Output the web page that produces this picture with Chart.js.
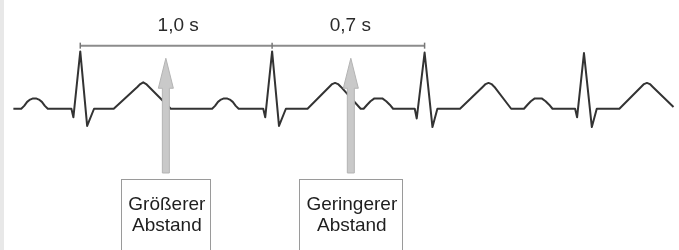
<!DOCTYPE html>
<html>
<head>
<meta charset="utf-8">
<script src="https://cdn.jsdelivr.net/npm/chart.js@4/dist/chart.umd.min.js"></script>
<style>
	html, body {margin:0; padding:0; background:#fff;}
	#box {width:679px; height:250px; position:relative;}
</style>
</head>
<body>
<div id="box"><canvas id="ecg"></canvas></div>
<script>
// ECG trace, time in ms, amplitude in mV
var ecgTime = [40, 80, 95, 110, 125, 140, 155, 170, 185, 200, 215,
	335, 345, 380, 415, 450, 550, 670, 685, 700, 715, 730, 840,
	1050, 1065, 1080, 1095, 1110, 1125, 1140, 1155, 1170, 1185,
	1310, 1320, 1355, 1390, 1425, 1535, 1645, 1660, 1675, 1690, 1705, 1805,
	1820, 1838, 1855, 1875, 1895, 1915, 1935, 1953, 1970,
	2080, 2090, 2130, 2170, 2195, 2310, 2425, 2440, 2455, 2470, 2485, 2570,
	2635, 2653, 2670, 2690, 2705, 2725, 2745, 2763, 2780,
	2895, 2905, 2940, 2980, 3005, 3120, 3230, 3245, 3260, 3275, 3290, 3395]
var ecgVolt = [0, 0, 0.05, 0.12, 0.16, 0.18, 0.18, 0.16, 0.12, 0.05, 0,
	0, -0.15, 1.0, -0.3, 0, 0, 0.38, 0.43, 0.46, 0.43, 0.38, 0,
	0, 0.05, 0.12, 0.16, 0.18, 0.18, 0.16, 0.12, 0.05, 0,
	0, -0.15, 1.0, -0.3, 0, 0, 0.38, 0.43, 0.45, 0.43, 0.38, 0,
	0, 0.07, 0.13, 0.18, 0.18, 0.18, 0.13, 0.07, 0,
	0, -0.17, 0.98, -0.32, 0, 0, 0.38, 0.43, 0.45, 0.43, 0.38, 0,
	0, 0.07, 0.13, 0.18, 0.18, 0.18, 0.13, 0.07, 0,
	0, -0.15, 0.97, -0.32, 0, 0, 0.38, 0.43, 0.45, 0.43, 0.38, 0.03]

// R-R intervals marked above the trace
var rPeaks = [380, 1355, 2130]
var rrLabels = ['1,0 s', '0,7 s']
var bracketLevel = 1.1

// arrows + notes below
var arrowTimes = [815, 1755]
var arrowTop = 0.88
var arrowBottom = -1.12
var noteTop = -1.23
var notes = [['Größerer', 'Abstand'], ['Geringerer', 'Abstand']]

var FONT = "19px 'Liberation Sans', Arial, sans-serif"

var extras = {
	id: 'extras',
	beforeDraw: function(chart) {
		var c = chart.ctx
		c.save()
		c.fillStyle = '#fff'
		c.fillRect(0, 0, chart.width, chart.height)
		c.fillStyle = '#e8e8e8'
		c.fillRect(0, 0, 4, chart.height)
		c.restore()
	},
	afterDatasetsDraw: function(chart) {
		var c = chart.ctx, xs = chart.scales.x, ys = chart.scales.y
		c.save()
		c.font = FONT
		c.fillStyle = '#2a2a2a'
		c.textAlign = 'center'
		c.textBaseline = 'alphabetic'
		for (var i = 0; i < rrLabels.length; i++) {
			var mid = (xs.getPixelForValue(rPeaks[i]) + xs.getPixelForValue(rPeaks[i + 1])) / 2
			c.fillText(rrLabels[i], mid + 2, ys.getPixelForValue(bracketLevel) - 15)
		}

		arrowTimes.forEach(function(t, i) {
			var x = xs.getPixelForValue(t)
			var top = ys.getPixelForValue(arrowTop)
			var bot = ys.getPixelForValue(arrowBottom)
			c.beginPath()
			c.moveTo(x, top)
			c.lineTo(x + 7.5, top + 30)
			c.lineTo(x + 3.5, top + 30)
			c.lineTo(x + 3.5, bot)
			c.lineTo(x - 3.5, bot)
			c.lineTo(x - 3.5, top + 30)
			c.lineTo(x - 7.5, top + 30)
			c.closePath()
			c.fillStyle = '#c9c9c9'
			c.fill()
			c.strokeStyle = '#b4b4b4'
			c.lineWidth = 1
			c.stroke()

			// note box
			var lines = notes[i]
			c.font = FONT
			var w = Math.max.apply(null, lines.map(function(s) { return c.measureText(s).width })) + 12
			var bt = ys.getPixelForValue(noteTop)
			c.fillStyle = '#fff'
			c.fillRect(x - w / 2, bt, w, chart.height - bt + 5)
			c.strokeStyle = '#9a9a9a'
			c.strokeRect(Math.round(x - w / 2) + 0.5, Math.round(bt) + 0.5, Math.round(w), chart.height)
			c.fillStyle = '#1e1e1e'
			c.textAlign = 'center'
			lines.forEach(function(s, k) {
				c.fillText(s, x + 1, bt + 31 + k * 21)
			})
		})
		c.restore()
	}
}

var ecgData = ecgTime.map(function(t, i) { return {x: t, y: ecgVolt[i]} })
var bracketData = rPeaks.map(function(t) { return {x: t, y: bracketLevel} })

new Chart(document.getElementById('ecg'), {
	type: 'line',
	data: {
		datasets: [{
			data: ecgData,
			borderColor: '#333',
			borderWidth: 2,
			pointRadius: 0,
			tension: 0,
			borderJoinStyle: 'round',
			clip: false
		}, {
			data: bracketData,
			borderColor: '#8c8c8c',
			borderWidth: 2,
			pointStyle: 'line',
			rotation: 90,
			pointRadius: 3,
			pointBorderColor: '#777',
			pointBorderWidth: 1.5,
			clip: false
		}]
	},
	options: {
		responsive: true,
		maintainAspectRatio: false,
		animation: false,
		events: [],
		layout: {padding: 0},
		plugins: {legend: {display: false}, tooltip: {enabled: false}},
		scales: {
			x: {type: 'linear', min: 0, max: 3395, display: false},
			y: {min: -2.3667, max: 1.8, display: false}
		}
	},
	plugins: [extras]
})
</script>
</body>
</html>
